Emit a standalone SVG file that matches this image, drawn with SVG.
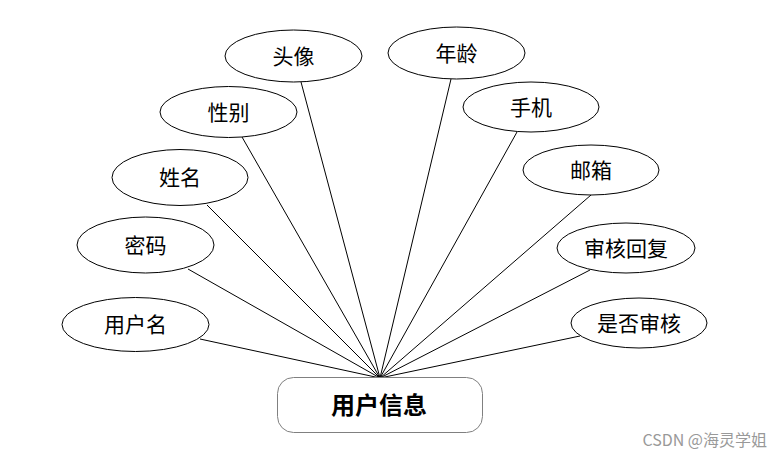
<svg xmlns="http://www.w3.org/2000/svg" width="782" height="458" viewBox="0 0 782 458">
<style>
.attr ellipse{fill:#fff;stroke:#000;stroke-width:1}
.attr text{font-family:"Noto Sans CJK SC",sans-serif;font-size:21px;text-anchor:middle;fill:#000}
.conn line{stroke:#000;stroke-width:1}
</style>
<rect width="782" height="458" fill="#fff"/>
<g id="connectors" class="conn">
<line x1="380" y1="378" x2="200" y2="339"/>
<line x1="380" y1="378" x2="188" y2="269"/>
<line x1="380" y1="378" x2="207" y2="205"/>
<line x1="380" y1="378" x2="242" y2="137"/>
<line x1="380" y1="378" x2="301" y2="82"/>
<line x1="380" y1="378" x2="451" y2="79"/>
<line x1="380" y1="378" x2="517" y2="132"/>
<line x1="380" y1="378" x2="591" y2="195"/>
<line x1="380" y1="378" x2="590" y2="270"/>
<line x1="380" y1="378" x2="580" y2="336"/>
</g>
<g id="n_user" class="attr"><ellipse cx="135.5" cy="324.5" rx="73.5" ry="27"/><text x="135.5" y="332">用户名</text></g>
<g id="n_pwd" class="attr"><ellipse cx="145.5" cy="245" rx="68.5" ry="28"/><text x="145.5" y="252.5">密码</text></g>
<g id="n_name" class="attr"><ellipse cx="180" cy="177.5" rx="68" ry="28"/><text x="180" y="185">姓名</text></g>
<g id="n_sex" class="attr"><ellipse cx="228.5" cy="112" rx="68.5" ry="25.5"/><text x="228.5" y="119.5">性别</text></g>
<g id="n_avatar" class="attr"><ellipse cx="293.5" cy="56" rx="68.5" ry="26"/><text x="293.5" y="63.5">头像</text></g>
<g id="n_age" class="attr"><ellipse cx="456.5" cy="53" rx="68.5" ry="26"/><text x="456.5" y="60.5">年龄</text></g>
<g id="n_phone" class="attr"><ellipse cx="531" cy="107" rx="68" ry="25"/><text x="531" y="114.5">手机</text></g>
<g id="n_mail" class="attr"><ellipse cx="591" cy="170" rx="68" ry="25"/><text x="591" y="177.5">邮箱</text></g>
<g id="n_reply" class="attr"><ellipse cx="626" cy="248" rx="69" ry="25"/><text x="626" y="255.5">审核回复</text></g>
<g id="n_audit" class="attr"><ellipse cx="639" cy="323" rx="68" ry="25"/><text x="639" y="330.5">是否审核</text></g>
<g id="n_entity"><rect x="277.5" y="377.5" width="205" height="55" rx="16" fill="#fff" stroke="#808080" stroke-width="1"/><text x="379" y="413.5" font-family="Noto Sans CJK SC,sans-serif" font-size="24" font-weight="bold" text-anchor="middle" fill="#000">用户信息</text></g>
<text x="767" y="446" font-family="Noto Sans CJK SC,sans-serif" font-size="16" text-anchor="end" fill="#999">CSDN @海灵学姐</text>
</svg>
